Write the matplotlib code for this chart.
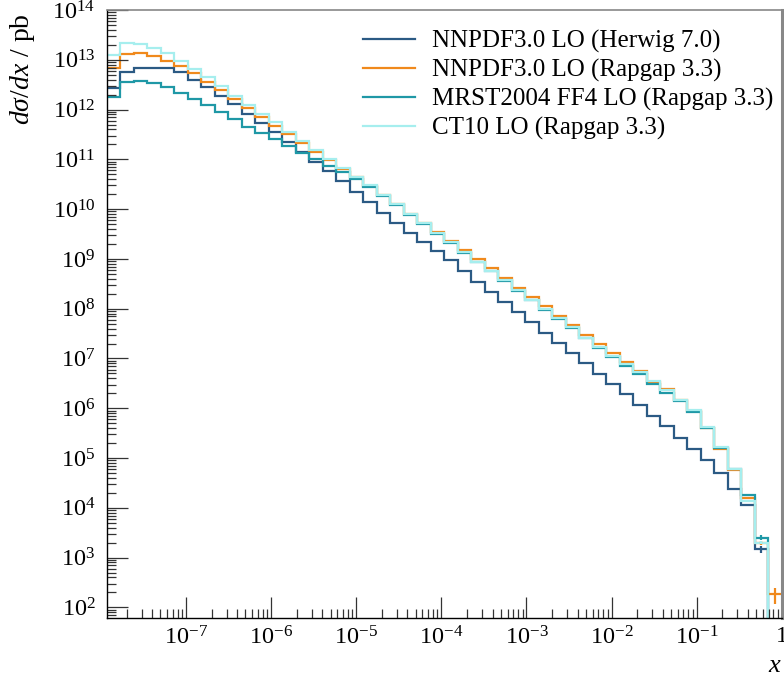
import numpy as np
import matplotlib
matplotlib.use("Agg")
import matplotlib.pyplot as plt
from matplotlib.ticker import LogLocator, FuncFormatter, NullFormatter

plt.rcParams['font.family'] = ['Liberation Serif', 'DejaVu Serif']
plt.rcParams['mathtext.fontset'] = 'custom'
plt.rcParams['mathtext.rm'] = 'Liberation Serif'
plt.rcParams['mathtext.it'] = 'Liberation Serif:italic'

# binning: 50 log bins from x_lo up to 1
x_lo = 1.17e-8
x_hi = 1.0
n_bins = 50

labels = ["NNPDF3.0 LO (Herwig 7.0)", "NNPDF3.0 LO (Rapgap 3.3)",
          "MRST2004 FF4 LO (Rapgap 3.3)", "CT10 LO (Rapgap 3.3)"]
colors = ["#2b5a84", "#f0891c", "#1f98a6", "#a6eeee"]

# log10 of dsigma/dx [pb] (None = empty bin)
log_herwig = [12.44, 12.76, 12.83, 12.83, 12.83, 12.75, 12.60, 12.45, 12.28, 12.11,
              11.92, 11.73, 11.54, 11.34, 11.14, 10.95, 10.76, 10.56, 10.34, 10.14,
              9.92, 9.73, 9.53, 9.34, 9.15, 8.97, 8.76, 8.54, 8.34, 8.14,
              7.94, 7.73, 7.52, 7.31, 7.11, 6.90, 6.69, 6.49, 6.29, 6.07,
              5.85, 5.64, 5.41, 5.18, 4.96, 4.69, 4.38, 4.05, 3.17, None]
log_nnpdf = [12.83, 13.11, 13.13, 13.08, 12.98, 12.87, 12.74, 12.56, 12.39, 12.22,
             12.03, 11.86, 11.68, 11.51, 11.33, 11.15, 10.98, 10.80, 10.64, 10.47,
             10.28, 10.10, 9.90, 9.73, 9.55, 9.37, 9.17, 8.99, 8.81, 8.61,
             8.41, 8.23, 8.05, 7.86, 7.68, 7.47, 7.29, 7.12, 6.92, 6.74,
             6.52, 6.38, 6.16, 5.94, 5.60, 5.18, 4.77, 4.19, 3.30, 2.26]
log_mrst = [12.26, 12.56, 12.58, 12.54, 12.46, 12.34, 12.22, 12.09, 11.95, 11.81,
            11.66, 11.53, 11.40, 11.26, 11.12, 11.00, 10.87, 10.75, 10.61, 10.44,
            10.26, 10.08, 9.88, 9.70, 9.51, 9.33, 9.12, 8.93, 8.75, 8.56,
            8.36, 8.17, 7.98, 7.80, 7.62, 7.41, 7.22, 7.04, 6.85, 6.68,
            6.49, 6.31, 6.14, 5.92, 5.60, 5.21, 4.78, 4.26, 3.40, None]
log_ct10 = [13.10, 13.34, 13.32, 13.24, 13.13, 12.98, 12.82, 12.65, 12.47, 12.28,
            12.10, 11.92, 11.75, 11.55, 11.36, 11.18, 11.01, 10.82, 10.65, 10.48,
            10.28, 10.10, 9.90, 9.72, 9.53, 9.35, 9.13, 8.94, 8.76, 8.57,
            8.37, 8.18, 7.99, 7.81, 7.63, 7.42, 7.23, 7.06, 6.89, 6.72,
            6.54, 6.36, 6.17, 5.97, 5.62, 5.23, 4.79, 4.14, 3.30, None]

# relative stat. errors, only visible in the last bins
err_bins = [47, 48, 49]
err_herwig = [0.05, 0.17, 0.0]
err_nnpdf = [0.04, 0.10, 0.35]
err_mrst = [0.05, 0.12, 0.0]
err_ct10 = [0.04, 0.08, 0.0]


def to_vals(logs):
    return np.array([0.0 if v is None else 10.0 ** v for v in logs])


edges = np.logspace(np.log10(x_lo), np.log10(x_hi), n_bins + 1)
centres = np.sqrt(edges[:-1] * edges[1:])

fig = plt.figure(figsize=(7.84, 6.78), dpi=100)
ax = fig.add_axes([0.1361, 0.0889, 0.8610, 0.8963])

series = [log_herwig, log_nnpdf, log_mrst, log_ct10]
errors = [err_herwig, err_nnpdf, err_mrst, err_ct10]
for logs, errs, col, lab in zip(series, errors, colors, labels):
    vals = to_vals(logs)
    ax.stairs(vals, edges, color=col, lw=1.6, baseline=None, label=lab)
    for b, e in zip(err_bins, errs):
        if e > 0 and vals[b] > 0:
            ax.vlines(centres[b], vals[b] * (1 - e), vals[b] * (1 + e), color=col, lw=1.6)

ax.set_xscale('log')
ax.set_yscale('log')
ax.set_xlim(x_lo, x_hi)
ax.set_ylim(62, 1e14)


def xfmt(v, pos):
    if v < x_lo or v > x_hi * 1.001:
        return ''
    e = int(round(np.log10(v)))
    if e == 0:
        return '1'
    return r'$10^{%d}$' % e


def yfmt(v, pos):
    if v < 62 or v > 1.001e14:
        return ''
    e = int(round(np.log10(v)))
    return r'$10^{%d}$' % e


ax.xaxis.set_major_locator(LogLocator(base=10, numticks=20))
ax.xaxis.set_minor_locator(LogLocator(base=10, subs=np.arange(2, 10), numticks=20))
ax.yaxis.set_major_locator(LogLocator(base=10, numticks=20))
ax.yaxis.set_minor_locator(LogLocator(base=10, subs=np.arange(2, 10), numticks=20))
ax.xaxis.set_major_formatter(FuncFormatter(xfmt))
ax.yaxis.set_major_formatter(FuncFormatter(yfmt))
ax.xaxis.set_minor_formatter(NullFormatter())
ax.yaxis.set_minor_formatter(NullFormatter())

ax.tick_params(which='both', direction='in', top=False, right=False, labelsize=17.5,
               color='#333333')
ax.tick_params(which='major', length=15, width=0.9)
ax.tick_params(which='minor', length=6.5, width=0.9)
ax.tick_params(axis='x', which='major', pad=6)
ax.tick_params(axis='y', which='major', pad=8)

ax.spines['left'].set_color('black')
ax.spines['bottom'].set_color('black')
ax.spines['left'].set_linewidth(1.0)
ax.spines['bottom'].set_linewidth(1.0)
ax.spines['top'].set_color('#888888')
ax.spines['top'].set_linewidth(1.2)
ax.spines['right'].set_color('#888888')
ax.spines['right'].set_linewidth(2.2)

ax.set_ylabel(r'$d\sigma/dx$ / pb', fontsize=20, loc='top')
ax.yaxis.set_label_coords(-0.103, 0.995)
ax.set_xlabel(r'$x$', fontsize=19, loc='right')
ax.xaxis.set_label_coords(1.0, -0.062)

ax.legend(loc='upper left', bbox_to_anchor=(363 / 784, 1 - 30 / 678),
          bbox_transform=fig.transFigure, frameon=False, fontsize=18,
          handlelength=2.08, handletextpad=0.68, labelspacing=0.24,
          borderpad=0, borderaxespad=0)

fig.savefig('out.png', dpi=100)
